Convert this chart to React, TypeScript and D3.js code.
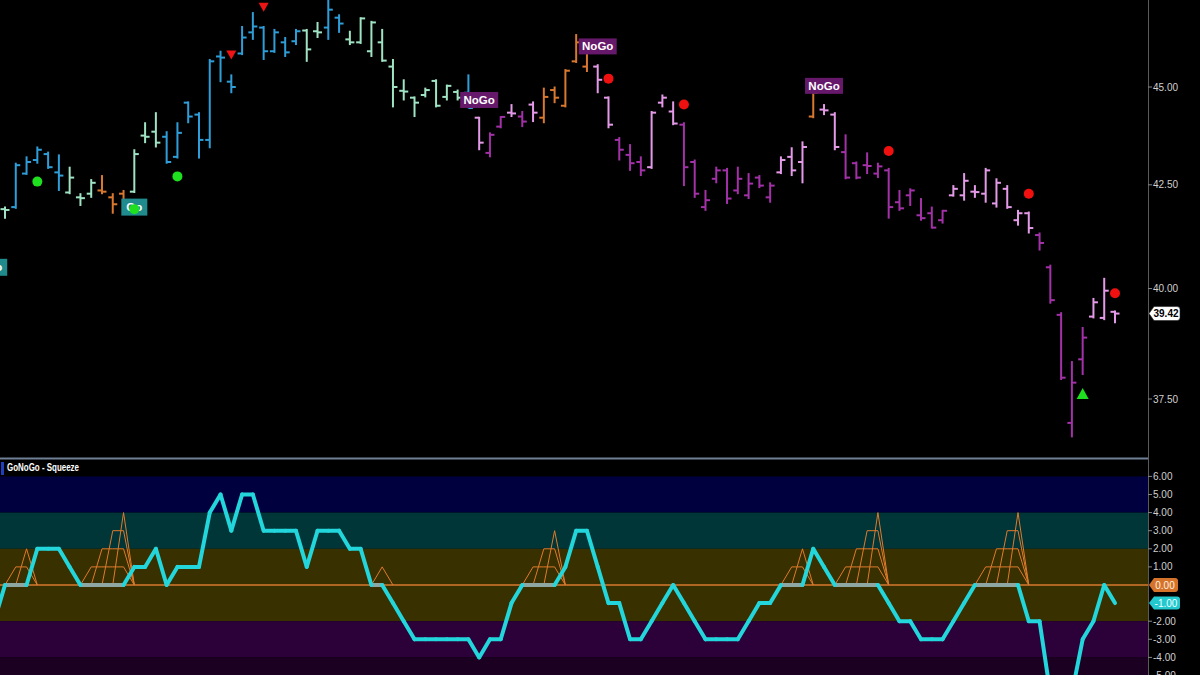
import React from "react";
import * as d3 from "d3";

// ---------- DATA ----------
const OPEN = [
  41.90, 41.95, 42.78, 43.12, 43.27, 42.81, 42.31, 42.19, 42.28, 42.36,
  42.19, 42.28, 42.33, 43.74, 43.84, 43.71, 43.20, 44.59, 44.28, 43.63,
  45.81, 45.14, 45.89, 46.46, 46.59, 45.95, 46.19, 46.22, 46.51, 46.49,
  46.59, 46.86, 46.27, 46.19, 45.95, 46.19, 45.54, 44.90, 44.72, 44.79,
  45.16, 44.74, 44.87, 44.85, 44.20, 43.30, 43.97, 44.33, 44.23, 44.54,
  44.20, 44.92, 44.51, 45.68, 45.54, 45.54, 44.72, 43.63, 43.25, 43.07,
  42.94, 44.59, 44.36, 44.02, 43.07, 41.95, 42.65, 42.86, 42.36, 42.24,
  42.68, 42.19, 42.81, 43.20, 43.07, 44.23, 44.41, 44.28, 43.32, 43.04,
  42.99, 42.78, 42.86, 42.07, 42.24, 41.75, 41.80, 41.63, 42.24, 42.24,
  42.33, 42.28, 42.04, 42.40, 41.63, 41.80, 41.27, 40.50, 39.39, 36.98,
  38.38, 39.35, 39.32, 39.46,
];
const HIGH = [
  41.95, 43.04, 43.20, 43.45, 43.32, 43.25, 42.94, 42.28, 42.63, 42.73,
  42.28, 42.36, 43.38, 44.07, 44.33, 43.84, 44.07, 44.61, 44.33, 45.73,
  45.95, 45.32, 46.62, 47.00, 46.62, 46.54, 46.32, 46.54, 46.54, 46.73,
  47.40, 46.94, 46.49, 46.86, 46.76, 46.54, 45.73, 45.19, 44.74, 44.97,
  45.19, 45.05, 44.92, 45.32, 44.21, 43.81, 44.23, 44.54, 44.36, 44.61,
  44.97, 45.00, 45.46, 46.40, 46.08, 45.59, 44.74, 43.69, 43.51, 43.20,
  44.36, 44.79, 44.61, 44.07, 43.12, 42.36, 42.94, 42.91, 42.94, 42.78,
  42.73, 42.55, 43.20, 43.43, 43.58, 44.87, 44.54, 44.33, 43.76, 43.07,
  43.30, 43.04, 42.91, 42.36, 42.40, 42.16, 41.95, 41.87, 42.48, 42.78,
  42.48, 42.91, 42.65, 42.48, 41.87, 41.83, 41.32, 40.55, 39.44, 38.33,
  39.10, 39.77, 40.24, 39.48,
];
const LOW = [
  41.68, 41.92, 42.76, 43.04, 42.91, 42.36, 42.28, 41.99, 42.19, 42.28,
  41.80, 42.07, 42.31, 43.56, 43.45, 43.04, 43.17, 44.07, 43.17, 43.43,
  45.14, 44.85, 45.86, 46.27, 45.73, 45.92, 45.81, 46.13, 45.68, 46.32,
  46.27, 46.46, 46.13, 46.16, 45.81, 45.68, 44.48, 44.66, 44.23, 44.74,
  44.48, 44.66, 44.66, 44.46, 43.38, 43.20, 43.94, 44.23, 43.97, 44.10,
  44.07, 44.59, 44.48, 45.65, 45.41, 44.85, 43.94, 43.12, 42.86, 42.73,
  42.91, 44.48, 44.02, 42.48, 42.19, 41.87, 42.55, 42.04, 42.28, 42.16,
  42.43, 42.07, 42.78, 42.73, 42.55, 44.20, 44.28, 43.38, 42.65, 42.65,
  42.78, 42.68, 41.68, 41.87, 41.99, 41.63, 41.44, 41.56, 42.22, 42.12,
  42.19, 42.07, 41.95, 41.92, 41.51, 41.32, 40.91, 39.66, 37.93, 36.68,
  38.04, 39.32, 39.28, 39.21,
];
const CLOSE = [
  41.88, 42.99, 43.07, 43.38, 42.94, 42.73, 42.68, 42.17, 42.55, 42.33,
  42.02, 42.09, 43.27, 43.71, 43.56, 43.07, 43.81, 44.23, 43.63, 45.68,
  45.78, 45.00, 46.32, 46.62, 45.95, 46.46, 45.92, 46.49, 46.00, 46.46,
  47.08, 46.70, 46.19, 46.84, 46.73, 45.70, 45.00, 44.88, 44.59, 44.92,
  44.51, 45.03, 44.72, 44.45, 43.56, 43.76, 44.22, 44.31, 44.10, 44.33,
  44.74, 44.72, 45.43, 46.19, 46.05, 45.19, 44.02, 43.38, 43.04, 42.86,
  44.33, 44.72, 44.05, 42.94, 42.28, 42.12, 42.86, 42.16, 42.65, 42.53,
  42.48, 42.48, 43.12, 42.86, 43.45, 44.85, 44.39, 43.45, 42.68, 42.68,
  42.97, 42.96, 41.95, 41.92, 42.36, 41.68, 41.45, 41.86, 42.40, 42.60,
  42.32, 42.86, 42.55, 41.95, 41.80, 41.44, 41.08, 39.73, 37.97, 37.86,
  38.87, 39.68, 39.95, 39.42,
];
// M = weak Go (mint), B = Go (blue), O = amber, P = weak NoGo (pink), V = NoGo (purple)
const TONES = (
  "M B B B B B M M M O O O M M M B B B B B B B B B B B B B M M B B " +
  "M M M M M M M M M M M B P V V P V P O O O O O P P V V V P P P " +
  "V V V V V V V V V P P P O P P V V V V V V V V V V P P P P P P P P " +
  "V V V V V P P P"
).split(" ");

// GoNoGo oscillator, first value belongs to the bar just before the visible range
const OSC_START = -1;
const OSC = [
  -2,
  0, 0, 0, 2, 2, 2, 1, 0, 0, 0,
  0, 0, 1, 1, 2, 0, 1, 1, 1, 4,
  5, 3, 5, 5, 3, 3, 3, 3, 1, 3,
  3, 3, 2, 2, 0, 0, -1, -2, -3, -3,
  -3, -3, -3, -3, -4, -3, -3, -1, 0, 0,
  0, 0, 1, 3, 3, 1, -1, -1, -3, -3,
  -2, -1, 0, -1, -2, -3, -3, -3, -3, -2,
  -1, -1, 0, 0, 0, 2, 1, 0, 0, 0,
  0, 0, -1, -2, -2, -3, -3, -3, -2, -1,
  0, 0, 0, 0, 0, -2, -2, -6, -6, -6,
  -3, -2, 0, -1,
];
// squeeze grid level per bar
const SQUEEZE = [
  0, 1, 2, 0, 0, 0, 0, 0, 1, 2,
  3, 4, 0, 0, 0, 0, 0, 0, 0, 0,
  0, 0, 0, 0, 0, 0, 0, 0, 0, 0,
  0, 0, 0, 0, 0, 1, 0, 0, 0, 0,
  0, 0, 0, 0, 0, 0, 0, 0, 0, 1,
  2, 3, 0, 0, 0, 0, 0, 0, 0, 0,
  0, 0, 0, 0, 0, 0, 0, 0, 0, 0,
  0, 0, 0, 1, 2, 0, 0, 0, 1, 2,
  3, 4, 0, 0, 0, 0, 0, 0, 0, 0,
  0, 1, 2, 3, 4, 0, 0, 0, 0, 0,
  0, 0, 0, 0,
];

const GREEN_DOTS = [
  { bar: 3, price: 42.58 },
  { bar: 16, price: 42.71 },
];
const RED_DOTS = [
  { bar: 56, price: 45.22 },
  { bar: 63, price: 44.54 },
  { bar: 82, price: 43.35 },
  { bar: 95, price: 42.28 },
  { bar: 103, price: 39.89 },
];
const DOWN_TRIANGLES = [
  { bar: 21, price: 45.86 },
  { bar: 24, price: 47.16 },
];
const UP_TRIANGLES = [{ bar: 100, price: 37.61 }];
const NOGO_LABELS = [
  { bar: 44, price: 44.66 },
  { bar: 55, price: 46.08 },
  { bar: 76, price: 45.03 },
];
const GO_LABELS = [
  { bar: -1, price: 40.5 },
  { bar: 12, price: 41.95 },
];
const GO_LABEL_DOTS = [{ bar: 12, price: 41.9 }];

const PRICE_TICKS = [47.5, 45, 42.5, 40, 37.5];
const OSC_TICKS = [6, 5, 4, 3, 2, 1, -2, -3, -4, -5];
const LAST_PRICE = 39.42;
const LAST_OSC = -1;

// ---------- STYLE ----------
const TONE_COLOR: Record<string, string> = {
  M: "#9fe3c3",
  B: "#2f9ed8",
  O: "#d9782f",
  P: "#e49ae8",
  V: "#a331a8",
};
const FONT = "'Liberation Sans', Arial, Helvetica, sans-serif";
const AXIS_X = 1148;

function tagPath(x0: number, cy: number, w: number, h: number) {
  const a = 5;
  const r = 3;
  const t = cy - h / 2;
  const b = cy + h / 2;
  return `M${x0},${cy} L${x0 + a},${t} L${x0 + w - r},${t} Q${x0 + w},${t} ${x0 + w},${t + r} L${x0 + w},${b - r} Q${x0 + w},${b} ${x0 + w - r},${b} L${x0 + a},${b} Z`;
}

export default function App() {
  const n = OPEN.length;
  const x = d3.scaleLinear().domain([0, n - 1]).range([5, 1115]);
  const yP = d3.scaleLog().domain([45, 37.5]).range([87, 399]);
  const yO = d3.scaleLinear().domain([6, -4]).range([476.4, 657.4]);

  const bars = d3.range(n).map((i) => {
    const xi = x(i);
    const c = TONE_COLOR[TONES[i]];
    return (
      <g key={i} stroke={c} strokeWidth={2}>
        <line x1={xi} x2={xi} y1={yP(HIGH[i]) - 0.5} y2={yP(LOW[i]) + 0.5} />
        <line x1={xi - 4.5} x2={xi} y1={yP(OPEN[i])} y2={yP(OPEN[i])} />
        <line x1={xi} x2={xi + 4.5} y1={yP(CLOSE[i])} y2={yP(CLOSE[i])} />
      </g>
    );
  });

  // squeeze grid lines
  const sqLines: JSX.Element[] = [];
  for (let k = 1; k <= 4; k++) {
    const vals = SQUEEZE.map((l) => (l >= k ? k : 0));
    for (let i = 0; i < n - 1; i++) {
      if (vals[i] === 0 && vals[i + 1] === 0) continue;
      sqLines.push(
        <line
          key={`s${k}-${i}`}
          x1={x(i)}
          x2={x(i + 1)}
          y1={yO(vals[i])}
          y2={yO(vals[i + 1])}
          stroke="#e07a2c"
          strokeWidth={1}
        />
      );
    }
  }

  const oscSegs: { x1: number; x2: number; y1: number; y2: number; flat: boolean }[] = [];
  for (let j = 0; j < OSC.length - 1; j++) {
    oscSegs.push({
      x1: x(j + OSC_START),
      x2: x(j + 1 + OSC_START),
      y1: yO(OSC[j]),
      y2: yO(OSC[j + 1]),
      flat: OSC[j] === 0 && OSC[j + 1] === 0,
    });
  }

  const bands = [
    { from: 6, to: 4, fill: "#00003e" },
    { from: 4, to: 2, fill: "#003638" },
    { from: 2, to: -2, fill: "#393000" },
    { from: -2, to: -4, fill: "#2c0038" },
    { from: -4, to: -7, fill: "#1b0022" },
  ];

  const triDown = (cx: number, cy: number) =>
    `M${cx - 5},${cy - 4} L${cx + 5},${cy - 4} L${cx},${cy + 5} Z`;
  const triUp = (cx: number, cy: number) =>
    `M${cx - 6},${cy + 5} L${cx + 6},${cy + 5} L${cx},${cy - 6} Z`;

  return (
    <svg
      width={1200}
      height={675}
      style={{ position: "absolute", left: 0, top: 0, display: "block", background: "#000" }}
      fontFamily={FONT}
    >
      <defs>
        <clipPath id="pricePanel">
          <rect x={0} y={0} width={AXIS_X} height={457} />
        </clipPath>
        <clipPath id="oscPanel">
          <rect x={0} y={460} width={AXIS_X} height={215} />
        </clipPath>
      </defs>
      <rect x={0} y={0} width={1200} height={675} fill="#000" />

      {/* price panel */}
      <g clipPath="url(#pricePanel)">
        {bars}
        {GO_LABELS.map((d, i) => (
          <g key={`gl${i}`}>
            <rect x={x(d.bar) - 13} y={yP(d.price) - 8.5} width={26} height={17} fill="#1f8b8d" />
            <text
              x={x(d.bar)}
              y={yP(d.price) + 4}
              textAnchor="middle"
              fontSize={11.5}
              fontWeight="bold"
              fill="#ffffff"
            >
              Go
            </text>
          </g>
        ))}
        {NOGO_LABELS.map((d, i) => (
          <g key={`nl${i}`}>
            <rect x={x(d.bar) - 19} y={yP(d.price) - 8} width={38} height={16} fill="#66186a" />
            <text
              x={x(d.bar)}
              y={yP(d.price) + 4}
              textAnchor="middle"
              fontSize={11.5}
              fontWeight="bold"
              fill="#ffffff"
            >
              NoGo
            </text>
          </g>
        ))}
        {GREEN_DOTS.concat(GO_LABEL_DOTS).map((d, i) => (
          <circle key={`gd${i}`} cx={x(d.bar)} cy={yP(d.price)} r={5} fill="#1ee01e" />
        ))}
        {RED_DOTS.map((d, i) => (
          <circle key={`rd${i}`} cx={x(d.bar)} cy={yP(d.price)} r={5} fill="#f01010" />
        ))}
        {DOWN_TRIANGLES.map((d, i) => (
          <path key={`dt${i}`} d={triDown(x(d.bar), yP(d.price))} fill="#ec1414" />
        ))}
        {UP_TRIANGLES.map((d, i) => (
          <path key={`ut${i}`} d={triUp(x(d.bar), yP(d.price))} fill="#1ee01e" />
        ))}
      </g>

      {/* oscillator panel */}
      <g clipPath="url(#oscPanel)">
        <rect x={0} y={460} width={AXIS_X} height={20} fill="#000" />
        {bands.map((b, i) => (
          <rect
            key={`b${i}`}
            x={0}
            y={yO(b.from)}
            width={AXIS_X}
            height={yO(b.to) - yO(b.from)}
            fill={b.fill}
          />
        ))}
        <line x1={0} x2={AXIS_X} y1={yO(0)} y2={yO(0)} stroke="#d9782f" strokeWidth={1.6} />
        {sqLines}
        {oscSegs
          .filter((s) => s.flat)
          .map((s, i) => (
            <line
              key={`of${i}`}
              x1={s.x1}
              x2={s.x2}
              y1={s.y1}
              y2={s.y2}
              stroke="#8fa7a3"
              strokeWidth={4}
              strokeLinecap="round"
            />
          ))}
        {oscSegs
          .filter((s) => !s.flat)
          .map((s, i) => (
            <line
              key={`oc${i}`}
              x1={s.x1}
              x2={s.x2}
              y1={s.y1}
              y2={s.y2}
              stroke="#22d6db"
              strokeWidth={4}
              strokeLinecap="round"
            />
          ))}
        <rect x={1} y={462} width={3} height={13} fill="#1f3fbf" />
        <text
          x={7}
          y={471}
          fontSize={10.5}
          fontWeight="bold"
          fill="#ffffff"
          textLength={72}
          lengthAdjust="spacingAndGlyphs"
        >
          GoNoGo - Squeeze
        </text>
      </g>

      {/* separator + axis */}
      <line x1={0} x2={AXIS_X} y1={458.5} y2={458.5} stroke="#6f8096" strokeWidth={2} />
      <line x1={AXIS_X + 0.5} x2={AXIS_X + 0.5} y1={0} y2={675} stroke="#5a5a5a" strokeWidth={1} />

      {PRICE_TICKS.map((t) => (
        <g key={`pt${t}`}>
          <line x1={AXIS_X} x2={AXIS_X + 4} y1={yP(t)} y2={yP(t)} stroke="#888" />
          <text x={AXIS_X + 5} y={yP(t)} dy="0.35em" fontSize={10} fill="#d0d0d0">
            {t.toFixed(2)}
          </text>
        </g>
      ))}
      {OSC_TICKS.map((t) => (
        <g key={`ot${t}`}>
          <line x1={AXIS_X} x2={AXIS_X + 4} y1={yO(t)} y2={yO(t)} stroke="#888" />
          <text x={AXIS_X + 5} y={yO(t)} dy="0.35em" fontSize={10} fill="#d0d0d0">
            {t.toFixed(2)}
          </text>
        </g>
      ))}

      {/* value tags */}
      <path d={tagPath(AXIS_X + 1, yP(LAST_PRICE), 31, 14)} fill="#ffffff" stroke="#222" strokeWidth={0.6} />
      <text
        x={AXIS_X + 18}
        y={yP(LAST_PRICE)}
        dy="0.36em"
        textAnchor="middle"
        fontSize={10}
        fontWeight="bold"
        fill="#000"
      >
        {LAST_PRICE.toFixed(2)}
      </text>
      <path d={tagPath(AXIS_X + 1, yO(0), 29, 14)} fill="#d5732a" />
      <text x={AXIS_X + 17} y={yO(0)} dy="0.36em" textAnchor="middle" fontSize={10} fill="#fff1e0">
        0.00
      </text>
      <path d={tagPath(AXIS_X + 1, yO(LAST_OSC), 31, 13)} fill="#22c9cf" />
      <text x={AXIS_X + 18} y={yO(LAST_OSC)} dy="0.36em" textAnchor="middle" fontSize={10} fill="#effefe">
        {LAST_OSC.toFixed(2)}
      </text>
    </svg>
  );
}
